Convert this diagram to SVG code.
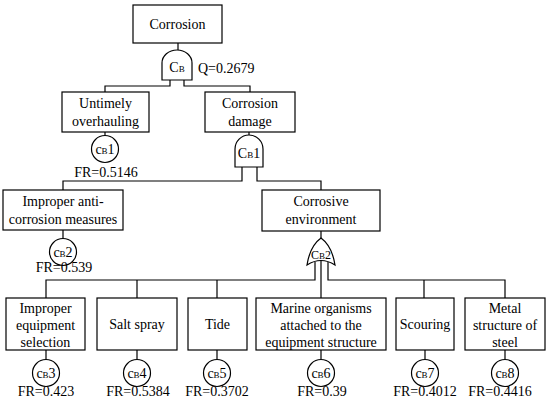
<svg xmlns="http://www.w3.org/2000/svg" width="550" height="403" viewBox="0 0 550 403" font-family="'Liberation Serif', 'Times New Roman', 'DejaVu Serif', serif" font-size="14">
<style>
.b{fill:#fff;stroke:#000;stroke-width:1.2}
.l{fill:none;stroke:#000;stroke-width:1.2}
text{fill:#000}
.c{text-anchor:middle}
.s{font-size:9px}
</style>
<rect width="550" height="403" fill="#fff"/>
<g id="connectors">
<path class="l" d="M178,43V50M170,80V86H105V92M184,80V86H250V92"/>
<path class="l" d="M105,132V136M249,132V135M242,167V181H63V190M257,167V181H321V190"/>
<path class="l" d="M63,230V238M321,231V238"/>
<path class="l" d="M315,262V280H46V298M137,280V298M217,280V298M321,260V298M328,262V280H505V298M424,280V298"/>
<path class="l" d="M46,350V359M137,350V359M217,350V359M321,350V359M425,350V359M505,350V359"/>
</g>
<g id="n-corrosion"><rect class="b" x="133" y="5" width="89" height="38"/><text class="c" x="177.5" y="29">Corrosion</text></g>
<g id="g-cb"><path class="b" d="M162,80V63A15,13 0 0 1 192,63V80Z"/><text class="c" x="177" y="72">C<tspan class="s">B</tspan></text><text x="198" y="73">Q=0.2679</text></g>
<g id="n-untimely"><rect class="b" x="62" y="92" width="87" height="40"/><text class="c" x="105.5" y="108">Untimely</text><text class="c" x="105.5" y="126">overhauling</text></g>
<g id="n-damage"><rect class="b" x="205" y="92" width="90" height="40"/><text class="c" x="250" y="108">Corrosion</text><text class="c" x="250" y="126">damage</text></g>
<g id="e-cb1"><circle class="b" cx="105" cy="149" r="13.5"/><text class="c" x="105" y="154">c<tspan class="s">B</tspan>1</text><text class="c" x="106" y="177">FR=0.5146</text></g>
<g id="g-cb1"><path class="b" d="M235,167V149A14,14 0 0 1 263,149V167Z"/><text class="c" x="249" y="158">C<tspan class="s">B</tspan>1</text></g>
<g id="n-anti"><rect class="b" x="3" y="190" width="120" height="40"/><text class="c" x="63" y="206">Improper anti-</text><text class="c" x="63" y="224">corrosion measures</text></g>
<g id="n-env"><rect class="b" x="262" y="190" width="118" height="41"/><text class="c" x="321" y="206">Corrosive</text><text class="c" x="321" y="224">environment</text></g>
<g id="e-cb2"><circle class="b" cx="63" cy="252" r="13.5"/><text class="c" x="63" y="257">c<tspan class="s">B</tspan>2</text><text class="c" x="64" y="272">FR=0.539</text></g>
<g id="g-cb2"><path class="b" d="M321,238Q332,246 335,265Q321,256 307,265Q310,246 321,238Z"/><text class="c" x="321" y="259" font-size="12">C<tspan class="s">B</tspan>2</text></g>
<g id="n-select"><rect class="b" x="6" y="298" width="79" height="52"/><text class="c" x="45.5" y="313">Improper</text><text class="c" x="45.5" y="330">equipment</text><text class="c" x="45.5" y="347">selection</text></g>
<g id="e-cb3"><circle class="b" cx="46" cy="373" r="13.5"/><text class="c" x="46" y="378">c<tspan class="s">B</tspan>3</text><text class="c" x="46" y="396">FR=0.423</text></g>
<g id="n-salt"><rect class="b" x="97" y="298" width="80" height="52"/><text class="c" x="137" y="329">Salt spray</text></g>
<g id="e-cb4"><circle class="b" cx="137" cy="373" r="13.5"/><text class="c" x="137" y="378">c<tspan class="s">B</tspan>4</text><text class="c" x="138" y="396">FR=0.5384</text></g>
<g id="n-tide"><rect class="b" x="188" y="298" width="59" height="52"/><text class="c" x="217.5" y="329">Tide</text></g>
<g id="e-cb5"><circle class="b" cx="217" cy="373" r="13.5"/><text class="c" x="217" y="378">c<tspan class="s">B</tspan>5</text><text class="c" x="217" y="396">FR=0.3702</text></g>
<g id="n-marine"><rect class="b" x="256" y="298" width="130" height="52"/><text class="c" x="321" y="313">Marine organisms</text><text class="c" x="321" y="330">attached to the</text><text class="c" x="321" y="347">equipment structure</text></g>
<g id="e-cb6"><circle class="b" cx="321" cy="373" r="13.5"/><text class="c" x="321" y="378">c<tspan class="s">B</tspan>6</text><text class="c" x="322" y="396">FR=0.39</text></g>
<g id="n-scour"><rect class="b" x="396" y="298" width="58" height="52"/><text class="c" x="425" y="329">Scouring</text></g>
<g id="e-cb7"><circle class="b" cx="425" cy="373" r="13.5"/><text class="c" x="425" y="378">c<tspan class="s">B</tspan>7</text><text class="c" x="425" y="396">FR=0.4012</text></g>
<g id="n-metal"><rect class="b" x="465" y="298" width="80" height="52"/><text class="c" x="505" y="313">Metal</text><text class="c" x="505" y="330">structure of</text><text class="c" x="505" y="347">steel</text></g>
<g id="e-cb8"><circle class="b" cx="505" cy="373" r="13.5"/><text class="c" x="505" y="378">c<tspan class="s">B</tspan>8</text><text class="c" x="500" y="396">FR=0.4416</text></g>
</svg>
